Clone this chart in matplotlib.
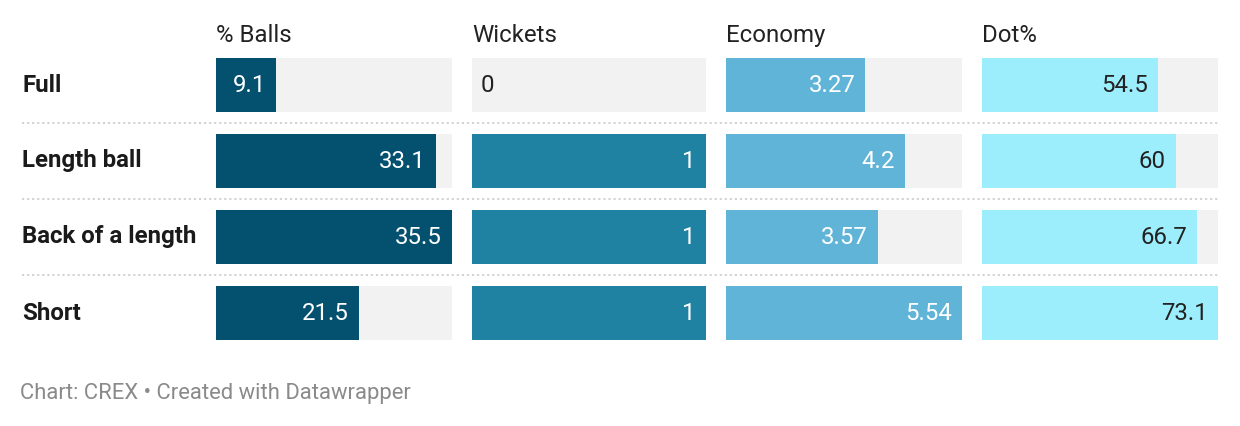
import matplotlib
matplotlib.use("Agg")
import matplotlib.pyplot as plt

categories = ["Full", "Length ball", "Back of a length", "Short"]
columns = ["% Balls", "Wickets", "Economy", "Dot%"]
pct_balls = [9.1, 33.1, 35.5, 21.5]
wickets = [0, 1, 1, 1]
economy = [3.27, 4.2, 3.57, 5.54]
dot_pct = [54.5, 60, 66.7, 73.1]
labels_balls = ["9.1", "33.1", "35.5", "21.5"]
labels_wickets = ["0", "1", "1", "1"]
labels_economy = ["3.27", "4.2", "3.57", "5.54"]
labels_dot = ["54.5", "60", "66.7", "73.1"]

series = [pct_balls, wickets, economy, dot_pct]
series_labels = [labels_balls, labels_wickets, labels_economy, labels_dot]
colors = ["#03506f", "#1f82a3", "#60b4d8", "#9deefd"]
text_colors = ["white", "white", "white", "#222222"]

W, H = 1240, 426
fig = plt.figure(figsize=(W / 100, H / 100), dpi=100)
fig.patch.set_facecolor("white")
plt.rcParams["font.family"] = ["Roboto", "DejaVu Sans"]

FS = 17.3
n = len(categories)
pitch = 76
bar_h = 54 / pitch
top_px, bot_px = 58, 58 + pitch * (n - 1) + 54
ylim = (n - 1 + bar_h / 2, -bar_h / 2)
ax_bottom = 1 - bot_px / H
ax_height = (bot_px - top_px) / H

# background axes for separators and row labels
bg = fig.add_axes([22 / W, ax_bottom, (1218 - 22) / W, ax_height])
bg.set_xlim(0, 1)
bg.set_ylim(*ylim)
bg.axis("off")
for i in range(n - 1):
    bg.axhline(i + 0.5, color="#cfcfcf", lw=1.3, ls=(0, (1.2, 1.6)))
for i, c in enumerate(categories):
    bg.text(0, i, c, ha="left", va="center", fontsize=FS, fontweight="bold",
            color="#1a1a1a")

col_left = [216, 472, 726, 982]
col_w = [236, 234, 236, 236]
header_y = -bar_h / 2 - (58 - 42) / pitch
for j, (name, vals, labs) in enumerate(zip(columns, series, series_labels)):
    ax = fig.add_axes([col_left[j] / W, ax_bottom, col_w[j] / W, ax_height])
    vmax = max(vals)
    ax.set_xlim(0, vmax)
    ax.set_ylim(*ylim)
    ax.axis("off")
    ypos = list(range(n))
    ax.barh(ypos, [vmax] * n, height=bar_h, color="#f2f2f2", lw=0)
    ax.barh(ypos, vals, height=bar_h, color=colors[j], lw=0)
    for i, (v, lab) in enumerate(zip(vals, labs)):
        if v == 0:
            ax.annotate(lab, (0, i), xytext=(6.5, 0), textcoords="offset points",
                        ha="left", va="center", fontsize=FS, color="#222222")
        else:
            ax.annotate(lab, (v, i), xytext=(-7.2, 0), textcoords="offset points",
                        ha="right", va="center", fontsize=FS, color=text_colors[j])
    ax.text(0, header_y, name, ha="left", va="baseline", fontsize=FS,
            color="#222222", clip_on=False)

fig.text(20 / W, 1 - 394 / H, "Chart: CREX • Created with Datawrapper",
         ha="left", va="center", fontsize=15.8, color="#8a8a8a")

fig.savefig("out.png", dpi=100, facecolor="white")
